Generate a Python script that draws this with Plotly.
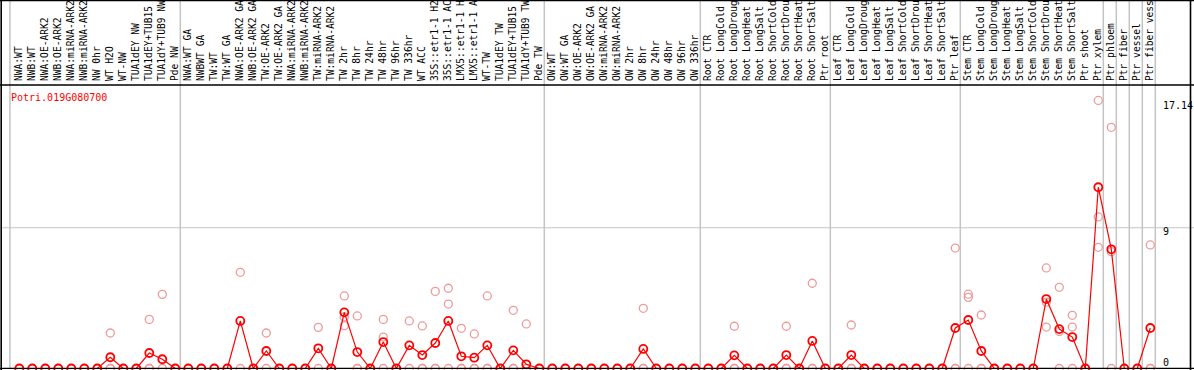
import plotly.graph_objects as go

# ---------------- data ----------------
categories = [
    "NWA:WT", "NWB:WT", "NWA:OE-ARK2", "NWB:OE-ARK2", "NWA:miRNA-ARK2", "NWB:miRNA-ARK2",
    "NW 0hr", "WT H2O", "WT-NW", "TUA1dEY NW", "TUA1dEY+TUB15", "TUA1dY+TUB9 NW", "Pde NW",
    "NWA:WT GA", "NWBWT GA", "TW:WT", "TW:WT GA", "NWA:OE-ARK2 GA", "NWB:OE-ARK2 GA",
    "TW:OE-ARK2", "TW:OE-ARK2 GA", "NWA:miRNA-ARK2", "NWB:miRNA-ARK2", "TW:miRNA-ARK2",
    "TW:miRNA-ARK2", "TW 2hr", "TW 8hr", "TW 24hr", "TW 48hr", "TW 96hr", "TW 336hr",
    "WT ACC", "35S::etr1-1 H2", "35S::etr1-1 AC", "LMX5::etr1-1 H", "LMX5::etr1-1 A",
    "WT-TW", "TUA1dEY TW", "TUA1dEY+TUB15", "TUA1dY+TUB9 TW", "Pde TW",
    "OW:WT", "OW:WT GA", "OW:OE-ARK2", "OW:OE-ARK2 GA", "OW:miRNA-ARK2", "OW:miRNA-ARK2",
    "OW 2hr", "OW 8hr", "OW 24hr", "OW 48hr", "OW 96hr", "OW 336hr",
    "Root CTR", "Root LongCold", "Root LongDroug", "Root LongHeat", "Root LongSalt",
    "Root ShortCold", "Root ShortDrou", "Root ShortHeat", "Root ShortSalt", "Ptr root",
    "Leaf CTR", "Leaf LongCold", "Leaf LongDroug", "Leaf LongHeat", "Leaf LongSalt",
    "Leaf ShortCold", "Leaf ShortDrou", "Leaf ShortHeat", "Leaf ShortSalt", "Ptr leaf",
    "Stem CTR", "Stem LongCold", "Stem LongDroug", "Stem LongHeat", "Stem LongSalt",
    "Stem ShortCold", "Stem ShortDrou", "Stem ShortHeat", "Stem ShortSalt", "Ptr shoot",
    "Ptr xylem", "Ptr phloem", "Ptr fiber", "Ptr vessel", "Ptr fiber vess",
]

means = [
    0, 0, 0, 0, 0, 0, 0, 0.72, 0, 0, 0.99, 0.59, 0,
    0, 0, 0, 0, 3.04, 0, 1.12, 0, 0, 0, 1.29, 0, 3.59, 1.05, 0, 1.69, 0, 1.48,
    0.86, 1.63, 3.04, 0.78, 0.69, 1.48, 0, 1.16, 0.27, 0,
    0, 0, 0, 0, 0, 0, 0, 1.25, 0, 0, 0, 0,
    0, 0, 0.84, 0, 0, 0, 0.86, 0, 1.76, 0,
    0, 0.86, 0, 0, 0, 0, 0, 0, 0, 2.59,
    3.10, 1.12, 0, 0, 0, 0, 4.44, 2.52, 2.01, 0, 11.59,
    7.62, 0, 0, 2.59,
]

replicates = [
    [0], [0], [0], [0], [0], [0], [0], [2.27, 0, 0], [0], [0], [3.14, 0, 0], [4.74, 0], [0],
    [0], [0], [0], [0], [6.15, 0], [0], [2.27, 0], [0], [0], [0], [2.63, 0], [0],
    [4.64, 3.3, 2.74], [3.36, 0, 0], [0], [3.14, 2.01, 0], [0], [3.04, 0],
    [2.72, 0, 0], [4.93, 0, 0], [5.13, 4.12, 0], [2.57, 0, 0], [2.21, 0, 0],
    [4.64, 0, 0], [0], [3.72, 0, 0], [2.85, 0], [0],
    [0], [0], [0], [0], [0], [0], [0], [3.85, 0, 0], [0], [0], [0], [0],
    [0], [0], [2.70, 0, 0], [0], [0], [0], [2.70, 0, 0], [0], [5.45, 0, 0], [0],
    [0], [2.78, 0, 0], [0], [0], [0], [0], [0], [0], [0], [7.70, 0, 0],
    [4.75, 4.55, 0], [3.42, 0, 0], [0], [0], [0], [0], [6.43, 4.24, 2.65],
    [5.19, 2.37, 0], [3.40, 2.65, 0], [0], [17.14, 9.69, 7.75],
    [15.42, 7.47, 0], [0], [0], [7.90, 0, 0],
]

group_ends = [12, 40, 52, 62, 72, 83, 84, 85, 86, 87]
gene_name = "Potri.019G080700"
y_tick_values = [17.14, 9, 0]
y_tick_labels = ["17.14", "9", "0"]

# ---------------- figure ----------------
W, H = 1194, 370
ML, MR, MT, MB = 0, 34, 85, 1
plot_w = W - ML - MR
plot_h = H - MT - MB
px_per_cat = 13.0
first_px = 19.3
px_per_unit = 15.64

xr = [-first_px / px_per_cat, (plot_w - first_px) / px_per_cat]
y0 = -0.5 / px_per_unit
yr = [y0, y0 + plot_h / px_per_unit]

idx = list(range(len(categories)))
rep_x, rep_y = [], []
for i, reps in enumerate(replicates):
    for v in reps:
        rep_x.append(i)
        rep_y.append(v)

MONO = "DejaVu Sans Mono"
fig = go.Figure()
fig.add_trace(go.Scatter(
    x=rep_x, y=rep_y, mode="markers", cliponaxis=False,
    marker=dict(symbol="circle-open", size=8, color="#ee9a9a", line=dict(width=1.3)),
    hoverinfo="skip", showlegend=False,
))
fig.add_trace(go.Scatter(
    x=idx, y=means, mode="lines+markers", cliponaxis=False,
    line=dict(color="#ff0000", width=1.2),
    marker=dict(symbol="circle-open", size=8, color="#ff0000", line=dict(width=1.8)),
    showlegend=False,
))

shapes = []
top_paper = 1 + MT / plot_h
right_paper = (W - ML) / plot_w
# group separators
for g in group_ends:
    xs = g + 5 / px_per_cat
    shapes.append(dict(type="line", xref="x", yref="paper", x0=xs, x1=xs, y0=0, y1=top_paper,
                       line=dict(color="#c4c4c4", width=1.5), layer="below"))
shapes.append(dict(type="line", xref="x", yref="paper", x0=-0.72, x1=-0.72, y0=0, y1=top_paper,
                   line=dict(color="#c4c4c4", width=1.5), layer="below"))
# gridline at 9
shapes.append(dict(type="line", xref="paper", yref="y", x0=0, x1=right_paper, y0=9, y1=9,
                   line=dict(color="#c4c4c4", width=1.2), layer="below"))
# frame
frame = dict(color="black", width=1.6)
shapes.append(dict(type="line", xref="paper", yref="paper", x0=0, x1=right_paper, y0=1, y1=1, line=frame))
shapes.append(dict(type="line", xref="paper", yref="y", x0=0, x1=right_paper, y0=0, y1=0, line=frame))
shapes.append(dict(type="line", xref="paper", yref="paper", x0=0, x1=right_paper,
                   y0=top_paper - 0.5 / plot_h, y1=top_paper - 0.5 / plot_h, line=frame))
shapes.append(dict(type="line", xref="paper", yref="paper", x0=1.2 / plot_w, x1=1.2 / plot_w,
                   y0=-0.02, y1=top_paper, line=frame))
shapes.append(dict(type="line", xref="paper", yref="paper", x0=1190.5 / plot_w, x1=1190.5 / plot_w,
                   y0=-0.02, y1=top_paper, line=frame))

annotations = [dict(
    text=gene_name, xref="paper", yref="paper", x=9 / plot_w, y=1, xanchor="left", yanchor="middle",
    yshift=-12, showarrow=False, font=dict(family=MONO, size=10, color="#ff0000"),
)]
shifts = [-5, -4, 6]
for v, t, s in zip(y_tick_values, y_tick_labels, shifts):
    annotations.append(dict(
        text=t, xref="paper", yref="y", x=1161 / plot_w, y=v, xanchor="left", yanchor="middle",
        yshift=s, showarrow=False, font=dict(family=MONO, size=10, color="black"),
    ))

fig.update_layout(
    width=W, height=H,
    margin=dict(l=ML, r=MR, t=MT, b=MB, pad=0),
    paper_bgcolor="white", plot_bgcolor="white",
    xaxis=dict(
        range=xr, side="top", tickmode="array", tickvals=idx, ticktext=categories,
        tickangle=-90, tickfont=dict(family=MONO, size=9.6, color="black"),
        showgrid=False, zeroline=False, showline=False, ticks="", ticklabelstandoff=3,
        automargin=False,
    ),
    yaxis=dict(range=yr, showgrid=False, zeroline=False, showline=False,
               showticklabels=False, ticks="", automargin=False),
    shapes=shapes,
    annotations=annotations,
    showlegend=False,
)

fig.write_html(
    "out.html",
    config={"displayModeBar": False},
    post_script="document.body.style.margin='0px';document.body.style.overflow='hidden';",
)
